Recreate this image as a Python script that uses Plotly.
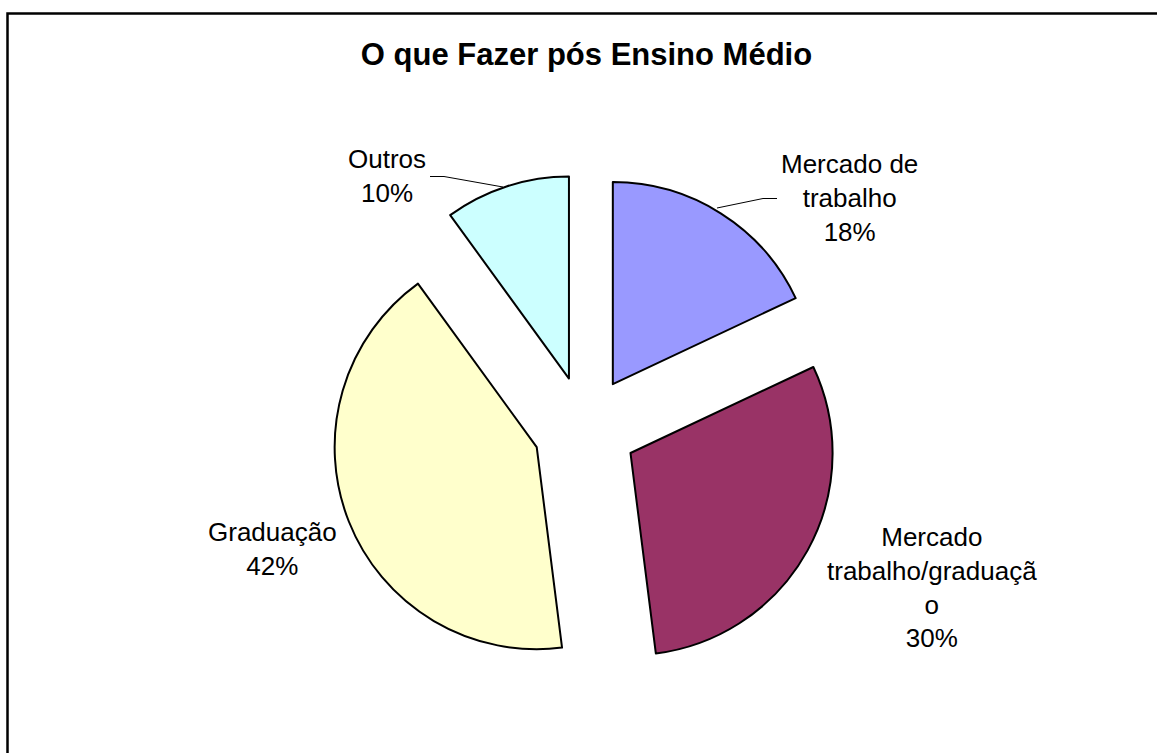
import plotly.graph_objects as go

categories = ["Mercado de trabalho", "Mercado trabalho/graduação", "Graduação", "Outros"]
values = [18, 30, 42, 10]
label_texts = ["Mercado de<br>trabalho<br>18%", "Mercado<br>trabalho/graduaçã<br>o<br>30%",
               "Graduação<br>42%", "Outros<br>10%"]
colors = ["#9999FF", "#993366", "#FFFFCC", "#CCFFFF"]

W, H = 1157, 753


def px(x):
    return x / W


def py(y):
    return 1 - y / H


fig = go.Figure(go.Pie(
    labels=categories,
    values=values,
    sort=False,
    direction="clockwise",
    rotation=0,
    pull=[0.257] * 4,
    textinfo="none",
    marker=dict(colors=colors, line=dict(color="black", width=2)),
    domain=dict(x=[px(585 - 254), px(585 + 254)], y=[py(428 + 254), py(428 - 254)]),
    showlegend=False,
))

label_pos = [(849, 197.5), (932, 587), (272.5, 548.5), (386.5, 175.5)]
annotations = []
for (x, y), t in zip(label_pos, label_texts):
    annotations.append(dict(
        x=px(x), y=py(y), xref="paper", yref="paper", text=t, showarrow=False,
        xanchor="center", yanchor="middle", align="center",
        font=dict(family="Liberation Sans, Arial, sans-serif", size=26, color="black"),
    ))

shapes = [
    dict(type="rect", xref="paper", yref="paper", x0=px(7.5), x1=1.02, y0=-0.02, y1=py(13.5),
         line=dict(color="black", width=2.5), fillcolor="rgba(0,0,0,0)"),
    dict(type="path", xref="paper", yref="paper",
         path=f"M {px(430)} {py(176.5)} L {px(444)} {py(176.5)} L {px(503)} {py(187)}",
         line=dict(color="black", width=1)),
    dict(type="path", xref="paper", yref="paper",
         path=f"M {px(717)} {py(208)} L {px(763)} {py(198.5)} L {px(777)} {py(198.5)}",
         line=dict(color="black", width=1)),
]

fig.update_layout(
    width=W, height=H,
    margin=dict(l=0, r=0, t=0, b=0),
    paper_bgcolor="white", plot_bgcolor="white",
    title=dict(text="<b>O que Fazer pós Ensino Médio</b>", x=px(586.5), xanchor="center",
               y=py(54.5), yanchor="middle", yref="container",
               font=dict(family="Liberation Sans, Arial, sans-serif", size=31, color="black")),
    annotations=annotations,
    shapes=shapes,
)

fig.write_html("out.html", config={"displayModeBar": False},
               post_script="document.body.style.margin='0px';")
